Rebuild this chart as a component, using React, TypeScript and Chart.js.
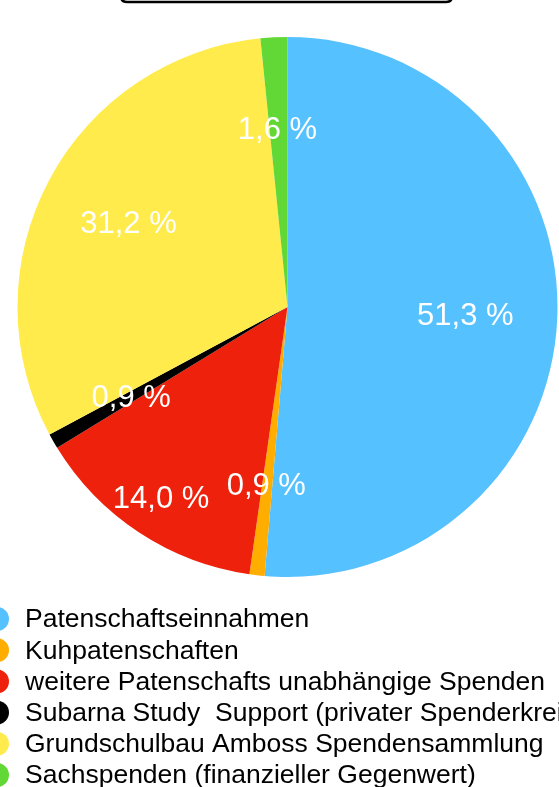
import React, { useEffect, useRef } from "react";
import { Chart, registerables } from "chart.js";

Chart.register(...registerables);

const categories = [
  "Patenschaftseinnahmen",
  "Kuhpatenschaften",
  "weitere Patenschafts unabhängige Spenden",
  "Subarna Study  Support (privater Spenderkreis)",
  "Grundschulbau Amboss Spendensammlung",
  "Sachspenden (finanzieller Gegenwert)",
];
const values = [51.3, 0.9, 14.0, 0.9, 31.2, 1.6];
const valueLabels = ["51,3 %", "0,9 %", "14,0 %", "0,9 %", "31,2 %", "1,6 %"];
const colors = ["#56C1FF", "#FFAE00", "#EE220C", "#000000", "#FFEB4C", "#61D836"];

const labelPlugin = {
  id: "sliceLabels",
  afterDatasetsDraw(chart: any) {
    const ctx = chart.ctx;
    const meta = chart.getDatasetMeta(0);
    ctx.save();
    ctx.fillStyle = "#ffffff";
    ctx.font = "31px 'Liberation Sans', Arial, sans-serif";
    ctx.textAlign = "center";
    ctx.textBaseline = "middle";
    meta.data.forEach((arc: any, i: number) => {
      const mid = (arc.startAngle + arc.endAngle) / 2;
      const f = i === 2 ? 0.845 : 0.663;
      const x = arc.x + Math.cos(mid) * arc.outerRadius * f;
      const y = arc.y + Math.sin(mid) * arc.outerRadius * f;
      ctx.fillText(valueLabels[i], x - 1, y + 2);
    });
    ctx.restore();
  },
};

const decorPlugin = {
  id: "decor",
  afterDraw(chart: any) {
    const ctx = chart.ctx;
    ctx.save();
    // top bracket line
    ctx.strokeStyle = "#000";
    ctx.lineWidth = 2.5;
    ctx.beginPath();
    ctx.moveTo(121, -4);
    ctx.quadraticCurveTo(121, 2, 127, 2);
    ctx.lineTo(446, 2);
    ctx.quadraticCurveTo(452, 2, 452, -4);
    ctx.stroke();
    // legend
    ctx.font = "26.5px 'Liberation Sans', Arial, sans-serif";
    ctx.textBaseline = "middle";
    ctx.textAlign = "left";
    categories.forEach((c, i) => {
      const y = 619 + i * 31.2;
      ctx.fillStyle = colors[i];
      ctx.beginPath();
      ctx.arc(-3, y, 12, 0, Math.PI * 2);
      ctx.fill();
      ctx.fillStyle = "#000";
      ctx.fillText(c, 25, y + 1);
    });
    ctx.restore();
  },
};

export default function App() {
  const ref = useRef<HTMLCanvasElement | null>(null);
  useEffect(() => {
    if (!ref.current) return;
    const chart = new Chart(ref.current, {
      type: "pie",
      data: {
        labels: categories,
        datasets: [
          {
            data: values,
            backgroundColor: colors,
            borderWidth: 0,
          },
        ],
      },
      options: {
        responsive: false,
        animation: false,
        layout: { padding: { left: 17, right: 1, top: 37, bottom: 210 } },
        plugins: {
          legend: { display: false },
          tooltip: { enabled: false },
          title: { display: false },
        },
      },
      plugins: [labelPlugin, decorPlugin],
    });
    return () => chart.destroy();
  }, []);
  return (
    <div style={{ position: "absolute", left: 0, top: 0, width: 559, height: 787, background: "#fff" }}>
      <canvas ref={ref} width={559} height={787} style={{ width: 559, height: 787 }} />
    </div>
  );
}
